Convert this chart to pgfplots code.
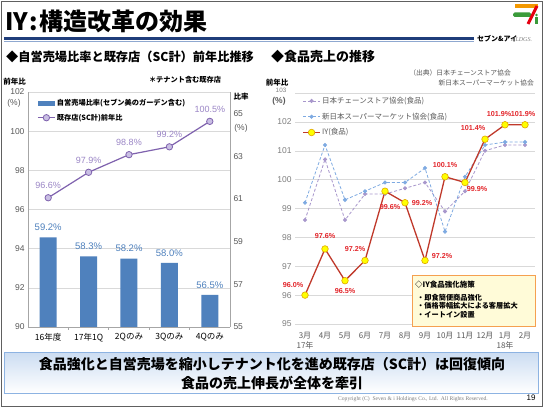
\documentclass[border=0pt]{standalone}
\usepackage{pgfplots}
\pgfplotsset{compat=1.18}
\usepackage{pgfplotstable}
\usepackage{fontspec}
\setmainfont{Liberation Sans}
\newfontfamily\cjk{Noto Sans CJK JP}
\newfontfamily\serifc{Liberation Serif}
\definecolor{barblue}{HTML}{4F81BD}
\definecolor{linepur}{HTML}{7F62AE}
\definecolor{mkpur}{HTML}{C9BFE3}
\definecolor{labpur}{HTML}{9B86C6}
\definecolor{chainpur}{HTML}{A897CC}
\definecolor{superblue}{HTML}{7EAAE2}
\definecolor{iyred}{HTML}{C0392B}
\definecolor{labred}{HTML}{E3262B}
\definecolor{mkyellow}{HTML}{FFFF00}
\definecolor{mkedge}{HTML}{E0A800}
\definecolor{navy}{HTML}{1F3D7A}
\definecolor{lightnavy}{HTML}{8FA8D0}
\definecolor{gridgray}{HTML}{D9D9D9}
\definecolor{axgray}{HTML}{A6A6A6}
\definecolor{tickgray}{HTML}{595959}
\definecolor{tickgray2}{HTML}{7F7F7F}
\definecolor{boxorange}{HTML}{F5A050}
\definecolor{boxfill}{HTML}{FFFBD8}
\definecolor{bbord}{HTML}{8DB3E2}
\definecolor{bfilltop}{HTML}{CCDDF2}
\definecolor{framegray}{HTML}{606060}
\definecolor{logoorange}{HTML}{F39800}
\definecolor{logogreen}{HTML}{3A9B3A}
\definecolor{logored}{HTML}{E60012}
\pgfplotsset{/pgf/number format/assume math mode=true}

\pgfplotstableread{
x bar line
0 59.2 96.6
1 58.3 97.9
2 58.2 98.8
3 58.0 99.2
4 56.5 100.5
}\lefttab

\pgfplotstableread{
x chain super iy dx dy
0 98.6 99.2 96.0 -12 10
1 100.7 101.2 97.6 0 12.5
2 98.6 99.3 96.5 0 -10.5
3 99.5 99.6 97.2 -10 11.5
4 99.5 99.9 99.6 5 -15.5
5 99.7 99.9 99.2 17 0
6 99.9 100.4 97.2 17 4
7 98.9 98.2 100.1 0 11.5
8 99.6 100.1 99.9 12 -7
9 101.0 101.2 101.4 -12 11
10 101.2 101.3 101.9 -6 11
11 101.2 101.3 101.9 -2 11
}\righttab

\begin{document}
\begin{tikzpicture}
\useasboundingbox (0,0) rectangle (544bp,408bp);
\fill[white] (0,0) rectangle (544bp,408bp);
\draw[framegray, line width=0.8bp] (1.2bp,1.6bp) rectangle (542.6bp,406.6bp);

% title
\node[anchor=west, inner sep=0] at (5bp,387bp) {\cjk\bfseries\fontsize{24bp}{26bp}\selectfont IY\kern1bp:\kern2bp 構造改革の効果};
\draw[navy, line width=2.2bp] (4bp,369.5bp) -- (474bp,369.5bp);
\draw[lightnavy, line width=0.8bp] (4bp,366.6bp) -- (474bp,366.6bp);
\node[anchor=west, inner sep=0] at (477bp,369bp) {\cjk\bfseries\fontsize{7bp}{8bp}\selectfont セブン\&アイ};
\node[anchor=west, inner sep=0] at (511bp,368.5bp) {\serifc\itshape\fontsize{6bp}{7bp}\selectfont\color{tickgray2} HLDGS.};
% logo
\fill[logoorange] (515bp,400bp) rectangle (538bp,403.5bp);
\fill[logogreen, rounded corners=1.5bp] (513bp,391bp) rectangle (531bp,395.5bp);
\draw[logored, line width=3bp] (537bp,402bp) -- (528bp,384bp);
\fill[logogreen] (536.5bp,393bp) circle (1.3bp);
\fill[logogreen] (535bp,384bp) rectangle (537.5bp,391bp);

% headings
\node[anchor=west, inner sep=0] at (6bp,351bp) {\cjk\bfseries\fontsize{12.2bp}{14bp}\selectfont ◆自営売場比率と既存店（SC計）前年比推移};
\node[anchor=west, inner sep=0] at (271bp,351bp) {\cjk\bfseries\fontsize{13bp}{14bp}\selectfont ◆食品売上の推移};

% left chart annotations
\node[inner sep=0] at (185bp,328bp) {\cjk\bfseries\fontsize{7.2bp}{8bp}\selectfont ＊テナント含む既存店};
\node[inner sep=0] at (14.5bp,326bp) {\cjk\bfseries\fontsize{7.5bp}{8bp}\selectfont 前年比};
\node[inner sep=0] at (14bp,305bp) {\fontsize{8.5bp}{10bp}\selectfont\color{tickgray}(\%)};
\node[inner sep=0] at (241bp,311bp) {\cjk\bfseries\fontsize{7.5bp}{8bp}\selectfont 比率};
\node[inner sep=0] at (241bp,280bp) {\fontsize{8.5bp}{10bp}\selectfont\color{tickgray}(\%)};

% right chart annotations
\node[inner sep=0] at (277bp,325bp) {\cjk\bfseries\fontsize{7.5bp}{8bp}\selectfont 前年比};
\node[inner sep=0] at (281bp,317.3bp) {\fontsize{6.3bp}{7bp}\selectfont\color{tickgray2}103};
\node[inner sep=0] at (279bp,307bp) {\bfseries\fontsize{8.5bp}{10bp}\selectfont\color{tickgray}(\%)};
\node[anchor=east, inner sep=0] at (511bp,335bp) {\cjk\fontsize{6.8bp}{8bp}\selectfont\color{tickgray}（出典）日本チェーンストア協会};
\node[anchor=east, inner sep=0] at (534bp,325bp) {\cjk\fontsize{6.8bp}{8bp}\selectfont\color{tickgray}新日本スーパーマーケット協会};

% ---- left chart: grid + left axis
\begin{axis}[at={(28bp,81bp)}, anchor=south west, scale only axis, width=202bp, height=235bp,
  xmin=-0.5, xmax=4.5, ymin=90, ymax=102, ytick={90,92,...,102}, xtick=\empty,
  hide x axis, axis y line*=left, ymajorgrids, grid style={gridgray, line width=0.5bp},
  y axis line style={axgray, line width=0.6bp}, major tick length=0,
  yticklabel style={font=\fontsize{8.5bp}{10bp}\selectfont, text=tickgray}]
\addplot[draw=none] coordinates {(0,95)};
\end{axis}
% ---- bars
\begin{axis}[at={(28bp,81bp)}, anchor=south west, scale only axis, width=202bp, height=235bp,
  xmin=-0.5, xmax=4.5, ymin=55, ymax=66, ytick={55,57,...,65},
  axis x line*=bottom, axis y line*=right, axis line style={axgray, line width=0.6bp},
  xtick={0,...,4}, xticklabels={16年度,17年1Q,2Qのみ,3Qのみ,4Qのみ},
  major tick length=0, extra x ticks={0.5,1.5,2.5,3.5}, extra x tick labels={},
  extra x tick style={major tick length=3bp, tick align=outside, tick style={axgray, line width=0.6bp}},
  xticklabel style={font=\cjk\fontsize{8.5bp}{10bp}\selectfont, text=black, yshift=-3bp},
  yticklabel style={font=\fontsize{8.5bp}{10bp}\selectfont, text=tickgray},
  ybar, bar width=17bp,
  nodes near coords={\pgfmathprintnumber[fixed,fixed zerofill,precision=1]{\pgfplotspointmeta}\%},
  nodes near coords style={font=\fontsize{9.5bp}{11bp}\selectfont, text=barblue, anchor=center, yshift=10bp}]
\addplot[fill=barblue, draw=none] table[x=x,y=bar]{\lefttab};
\end{axis}
% ---- line
\begin{axis}[at={(28bp,81bp)}, anchor=south west, scale only axis, width=202bp, height=235bp,
  xmin=-0.5, xmax=4.5, ymin=90, ymax=102, axis lines=none, clip=false,
  legend style={at={(0.045,0.975)}, anchor=north west, draw=none, fill=none,
    font=\cjk\bfseries\fontsize{7.2bp}{8.5bp}\selectfont, row sep=3.5bp, inner sep=0pt,
    nodes={inner sep=1.5bp}},
  legend cell align=left,
  nodes near coords={\pgfmathprintnumber[fixed,fixed zerofill,precision=1]{\pgfplotspointmeta}\%},
  nodes near coords style={font=\fontsize{9bp}{10bp}\selectfont, text=labpur, anchor=center, yshift=12bp}]
\addlegendimage{legend image code/.code={\fill[barblue] (0bp,-2bp) rectangle (16bp,2bp);}}
\addplot[linepur, line width=1.2bp, mark=*, mark size=3.2bp, mark options={fill=mkpur, draw=linepur, line width=0.8bp}] table[x=x,y=line]{\lefttab};
\legend{自営売場比率(セブン美のガーデン含む), 既存店(SC計)前年比}
\end{axis}

% ---- right chart
\begin{axis}[at={(295bp,84bp)}, anchor=south west, scale only axis, width=240bp, height=231bp,
  xmin=-0.5, xmax=11.5, ymin=95, ymax=103, ytick={95,...,103},
  yticklabels={95,96,97,98,99,100,101,102,{}},
  ymajorgrids, grid style={gridgray, line width=0.5bp}, axis line style={draw=none},
  major tick length=0, clip=false,
  xtick={0,...,11}, xticklabels={{3月\\17年},4月,5月,6月,7月,8月,9月,10月,11月,12月,{1月\\18年},2月},
  xticklabel style={font=\cjk\fontsize{8bp}{10bp}\selectfont, text=tickgray, align=center, yshift=-5bp},
  yticklabel style={font=\fontsize{8.5bp}{10bp}\selectfont, text=tickgray2},
  legend style={at={(0.03,0.99)}, anchor=north west, draw=none, fill=none,
    font=\cjk\fontsize{7.5bp}{9bp}\selectfont, row sep=5bp, inner sep=0pt,
    nodes={inner sep=1.5bp}, text=tickgray},
  legend cell align=left]
\addplot[chainpur, line width=0.8bp, dash pattern=on 3bp off 2bp, mark=*, mark size=1.6bp, mark options={solid, fill=chainpur}] table[x=x,y=chain]{\righttab};
\addplot[superblue, line width=0.8bp, dash pattern=on 3bp off 2bp, mark=*, mark size=1.6bp, mark options={solid, fill=superblue}] table[x=x,y=super]{\righttab};
\addplot[iyred, line width=1.3bp, mark=*, mark size=3.3bp, mark options={fill=mkyellow, draw=mkedge, line width=0.6bp},
  visualization depends on={\thisrow{dx}\as\lblx},
  visualization depends on={\thisrow{dy}\as\lbly},
  nodes near coords={\pgfmathprintnumber[fixed,fixed zerofill,precision=1]{\pgfplotspointmeta}\%},
  nodes near coords style={font=\bfseries\fontsize{7.2bp}{9bp}\selectfont, text=labred, anchor=center, xshift=\lblx bp, yshift=\lbly bp}]
  table[x=x,y=iy]{\righttab};
\legend{日本チェーンストア協会(食品), 新日本スーパーマーケット協会(食品), IY(食品)}
\end{axis}

% annotation box
\filldraw[fill=boxfill, draw=boxorange, line width=0.8bp] (412bp,82bp) rectangle (535bp,133bp);
\node[anchor=west, inner sep=0] at (415bp,123bp) {\cjk\bfseries\fontsize{7.5bp}{9bp}\selectfont ◇IY食品強化施策};
\node[anchor=west, inner sep=0] at (417bp,110.5bp) {\cjk\bfseries\fontsize{7.2bp}{9bp}\selectfont ・即食簡便商品強化};
\node[anchor=west, inner sep=0] at (417bp,102bp) {\cjk\bfseries\fontsize{7.2bp}{9bp}\selectfont ・価格帯幅拡大による客層拡大};
\node[anchor=west, inner sep=0] at (417bp,93.5bp) {\cjk\bfseries\fontsize{7.2bp}{9bp}\selectfont ・イートイン設置};

% bottom box
\shade[top color=bfilltop, bottom color=white] (4.5bp,15bp) rectangle (538bp,55.5bp);
\draw[bbord, line width=0.9bp] (4.5bp,15bp) rectangle (538bp,55.5bp);
\node[inner sep=0] at (272bp,43.5bp) {\cjk\bfseries\fontsize{14bp}{16bp}\selectfont 食品強化と自営売場を縮小しテナント化を進め既存店（SC計）は回復傾向};
\node[inner sep=0] at (272bp,24.5bp) {\cjk\bfseries\fontsize{14bp}{16bp}\selectfont 食品の売上伸長が全体を牽引};

% footer
\node[anchor=east, inner sep=0] at (488bp,9bp) {\serifc\fontsize{5.6bp}{7bp}\selectfont\color{tickgray2} Copyright (C)\ \ Seven \& i Holdings Co., Ltd.\ \ All Rights Reserved.};
\node[inner sep=0] at (531bp,10bp) {\fontsize{8bp}{9bp}\selectfont 19};
\end{tikzpicture}
\end{document}
